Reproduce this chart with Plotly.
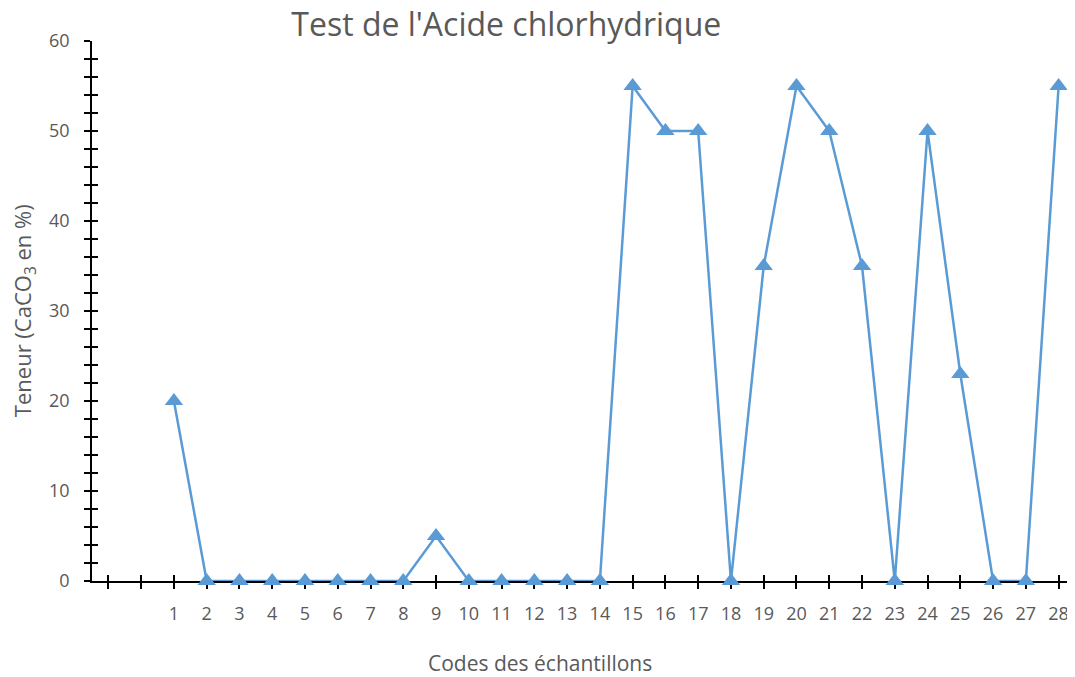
import plotly.graph_objects as go

codes = list(range(1, 29))
teneur = [20, 0, 0, 0, 0, 0, 0, 0, 5, 0, 0, 0, 0, 0,
          55, 50, 50, 0, 35, 55, 50, 35, 0, 50, 23, 0, 0, 55]
tick_vals = list(range(-1, 29))
tick_text = ["", ""] + [str(c) for c in codes]

FONT = "Open Sans"
GREY = "#595959"
BLUE = "#5B9BD5"

fig = go.Figure()
fig.add_trace(go.Scatter(
    x=codes, y=teneur, mode="lines+markers",
    line=dict(color=BLUE, width=2.5),
    marker=dict(symbol="triangle-up", size=16, color=BLUE),
    showlegend=False, hoverinfo="x+y", cliponaxis=False,
))
# invisible trace on overlay axes for crossing ticks
fig.add_trace(go.Scatter(x=[codes[0]], y=[teneur[0]], xaxis="x2", yaxis="y2",
                         mode="markers", marker=dict(opacity=0), showlegend=False,
                         hoverinfo="skip"))

xr = [-1.5, 28.5]
yr = [0, 60]
fig.update_layout(
    width=1067, height=669,
    margin=dict(l=84, r=0, t=33, b=96, autoexpand=False),
    plot_bgcolor="white", paper_bgcolor="white",
    font=dict(family=FONT, color=GREY, size=18),
    title=dict(text="Test de l'Acide chlorhydrique", x=0.467, xanchor="center",
               y=0.975, yanchor="middle",
               font=dict(size=32, color=GREY, family=FONT)),
    xaxis=dict(range=xr, tickmode="array", tickvals=tick_vals, ticktext=tick_text,
               ticks="outside", ticklen=6, tickwidth=1.5, tickcolor="black",
               showline=True, linecolor="black", linewidth=1.5, showgrid=False,
               zeroline=False, layer="below traces", ticklabelstandoff=10,
               automargin=False, tickfont=dict(size=18, color=GREY)),
    yaxis=dict(range=yr, tickmode="linear", tick0=0, dtick=10,
               ticks="outside", ticklen=6, tickwidth=1.5, tickcolor="black",
               minor=dict(dtick=2, ticks="outside", ticklen=6, tickwidth=1.5, tickcolor="black"),
               showline=True, linecolor="black", linewidth=1.5, showgrid=False,
               zeroline=False, layer="below traces", ticklabelstandoff=11,
               automargin=False, tickfont=dict(size=18, color=GREY)),
    xaxis2=dict(range=xr, overlaying="x", tickmode="array", tickvals=tick_vals,
                ticks="inside", ticklen=6, tickwidth=1.5, tickcolor="black",
                showticklabels=False, showline=False, showgrid=False, zeroline=False,
                layer="below traces", anchor="y2", automargin=False),
    yaxis2=dict(range=yr, overlaying="y", tickmode="linear", tick0=0, dtick=10,
                ticks="inside", ticklen=6, tickwidth=1.5, tickcolor="black",
                minor=dict(dtick=2, ticks="inside", ticklen=6, tickwidth=1.5, tickcolor="black"),
                showticklabels=False, showline=False, showgrid=False, zeroline=False,
                layer="below traces", anchor="x2", automargin=False),
    annotations=[
        dict(text="Codes des échantillons", xref="paper", yref="paper",
             x=0.456, y=-0.152, xanchor="center", yanchor="middle", showarrow=False,
             font=dict(size=21, color=GREY, family=FONT)),
        dict(text="Teneur (CaCO<sub>3</sub> en %)", xref="paper", yref="paper",
             x=-0.069, y=0.5, xanchor="center", yanchor="middle", textangle=-90,
             showarrow=False, font=dict(size=22, color=GREY, family=FONT)),
    ],
)

fig.write_html("out.html")
